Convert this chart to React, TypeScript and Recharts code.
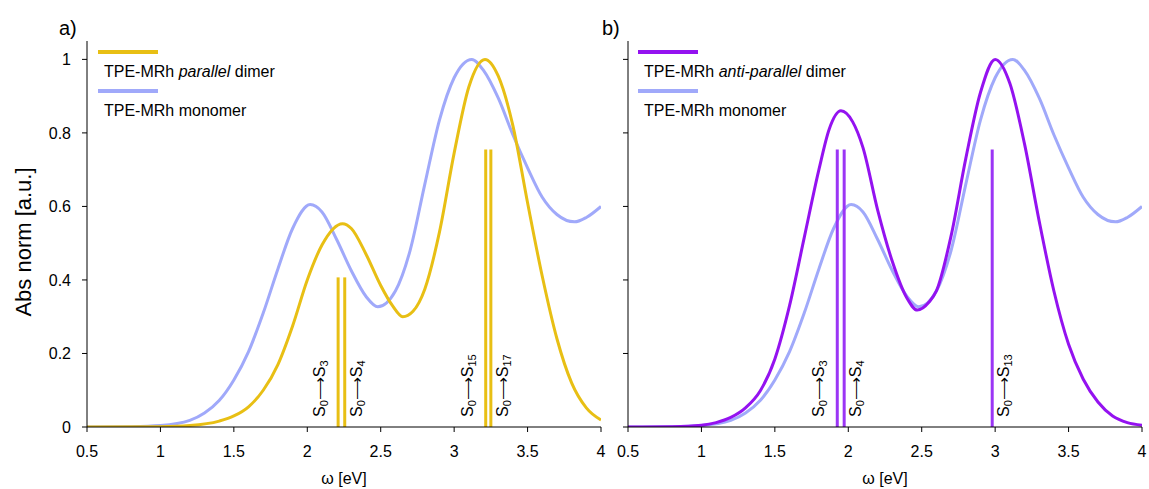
import React from "react";
import {
  ComposedChart,
  Line,
  XAxis,
  YAxis,
  ReferenceLine,
  Legend,
} from "recharts";

const FONT = '"Liberation Sans", Arial, Helvetica, sans-serif';
const GOLD = "#e8bf14";
const LAVENDER = "#a0a9fa";
const PURPLE = "#9412f0";
const PURPLE_STICK = "#9b35f5";

const omegaTicks = [0.5, 1, 1.5, 2, 2.5, 3, 3.5, 4];
const absTicks = [0, 0.2, 0.4, 0.6, 0.8, 1];

// TPE-MRh monomer spectrum (same in both panels)
const monomerOmega = [0.5, 0.8, 1.0, 1.2, 1.3, 1.4, 1.5, 1.6, 1.7, 1.8, 1.9, 2.02, 2.1, 2.2, 2.3, 2.4, 2.48, 2.6, 2.7, 2.8, 2.9, 3.0, 3.12, 3.2, 3.3, 3.4, 3.5, 3.6, 3.7, 3.82, 3.9, 4.0];
const monomerAbs = [0, 0.001, 0.004, 0.018, 0.038, 0.072, 0.128, 0.205, 0.31, 0.43, 0.54, 0.605, 0.585, 0.51, 0.425, 0.355, 0.327, 0.37, 0.48, 0.66, 0.835, 0.95, 1.0, 0.97, 0.895, 0.795, 0.705, 0.625, 0.578, 0.558, 0.57, 0.6];

// parallel dimer
const parallelOmega = [0.5, 1.0, 1.2, 1.4, 1.5, 1.6, 1.7, 1.8, 1.9, 2.0, 2.1, 2.24, 2.3, 2.4, 2.5, 2.58, 2.65, 2.72, 2.8, 2.9, 3.0, 3.1, 3.21, 3.3, 3.4, 3.5, 3.6, 3.7, 3.8, 3.9, 4.0];
const parallelAbs = [0, 0.001, 0.004, 0.016, 0.03, 0.055, 0.1, 0.17, 0.275, 0.4, 0.495, 0.553, 0.54, 0.47, 0.385, 0.33, 0.3, 0.315, 0.375, 0.53, 0.745, 0.925, 1.0, 0.955, 0.82, 0.61, 0.41, 0.24, 0.12, 0.052, 0.019];

// anti-parallel dimer
const antiOmega = [0.5, 0.8, 1.0, 1.1, 1.2, 1.3, 1.4, 1.5, 1.6, 1.7, 1.8, 1.87, 1.95, 2.03, 2.1, 2.2, 2.3, 2.4, 2.47, 2.55, 2.6, 2.7, 2.8, 2.9, 3.0, 3.1, 3.2, 3.3, 3.4, 3.5, 3.6, 3.7, 3.8, 3.9, 4.0];
const antiAbs = [0, 0.001, 0.005, 0.012, 0.026, 0.052, 0.098, 0.185, 0.33, 0.515, 0.7, 0.81, 0.86, 0.83, 0.76, 0.59, 0.45, 0.35, 0.318, 0.34, 0.37, 0.52, 0.73, 0.91, 1.0, 0.935, 0.77, 0.56, 0.37, 0.225, 0.13, 0.068, 0.03, 0.012, 0.005];

// transitions (sticks)
const parallelStickOmega = [2.21, 2.255, 3.215, 3.25];
const parallelStickAbs = [0.407, 0.407, 0.755, 0.755];
const parallelStickState = ["3", "4", "15", "17"];
const parallelStickSide = ["left", "right", "left", "right"];

const antiStickOmega = [1.925, 1.972, 2.98];
const antiStickAbs = [0.755, 0.755, 0.755];
const antiStickState = ["3", "4", "13"];
const antiStickSide = ["left", "right", "right"];

const zip = (xs: number[], ys: number[]) =>
  xs.map((omega, i) => ({ omega, abs: ys[i] }));

const StickLabel = (props: any) => {
  const vb = props.viewBox || {};
  const baseY = (vb.y ?? 0) + (vb.height ?? 0);
  const x = vb.x + (props.side === "left" ? -13 : 17);
  const y = baseY - 10;
  return (
    <text
      x={x}
      y={y}
      transform={`rotate(-90 ${x} ${y})`}
      fontSize={16}
      fontFamily={FONT}
      fill="#000"
    >
      S<tspan fontSize={11} dy={3}>0</tspan>
      <tspan dy={-3}>⟶</tspan>S
      <tspan fontSize={11} dy={3}>{props.state}</tspan>
    </text>
  );
};

const LegendBox = (props: any) => {
  // dimer first, monomer below (as in the figure)
  const items = [...(props.payload || [])].sort(
    (a: any, b: any) =>
      Number(String(b.value).includes("dimer")) -
      Number(String(a.value).includes("dimer"))
  );
  return (
    <div style={{ fontFamily: FONT, fontSize: 16, color: "#000" }}>
      {items.map((it: any) => (
        <div key={it.value} style={{ marginBottom: 8 }}>
          <div style={{ width: 60, height: 4, background: it.color }} />
          <div style={{ marginTop: 9, marginLeft: 6, lineHeight: "18px", whiteSpace: "nowrap" }}>
            {String(it.value)
              .split(" ")
              .map((w: string, i: number) => (
                <span key={i} style={{ fontStyle: w.includes("parallel") ? "italic" : "normal" }}>
                  {i > 0 ? " " : ""}
                  {w}
                </span>
              ))}
          </div>
        </div>
      ))}
    </div>
  );
};

interface PanelProps {
  width: number;
  yWidth: number;
  showYLabels: boolean;
  dimerName: string;
  dimerColor: string;
  stickColor: string;
  dimerOmega: number[];
  dimerAbs: number[];
  stickOmega: number[];
  stickAbs: number[];
  stickState: string[];
  stickSide: string[];
  legendLeft: number;
}

function Panel(p: PanelProps) {
  const tickStyle = { fontSize: 16, fontFamily: FONT, fill: "#000" };
  return (
    <ComposedChart
      width={p.width}
      height={489}
      margin={{ top: 41, right: p.width - p.yWidth - 514, bottom: 0, left: 0 }}
    >
      <XAxis
        type="number"
        dataKey="omega"
        domain={[0.5, 4]}
        ticks={omegaTicks}
        allowDataOverflow
        height={62}
        tickSize={5}
        tickMargin={14}
        tick={tickStyle}
        stroke="#000"
        label={(lp: any) => {
          const vb = lp.viewBox;
          return (
            <text
              x={vb.x + vb.width / 2}
              y={vb.y + 56.5}
              textAnchor="middle"
              fontSize={16}
              fontFamily={FONT}
              fill="#000"
            >
              ω [eV]
            </text>
          );
        }}
      />
      <YAxis
        type="number"
        domain={[0, 1.05]}
        ticks={absTicks}
        allowDataOverflow
        width={p.yWidth}
        tickSize={5}
        tickMargin={11}
        tick={tickStyle}
        stroke="#000"
        tickFormatter={p.showYLabels ? (v: number) => String(v) : () => ""}
        label={
          p.showYLabels
            ? () => (
                <text
                  x={31}
                  y={242}
                  transform="rotate(-90 31 242)"
                  textAnchor="middle"
                  fontSize={22}
                  fontFamily={FONT}
                  fill="#000"
                >
                  Abs norm [a.u.]
                </text>
              )
            : undefined
        }
      />
      <Legend
        layout="vertical"
        align="center"
        verticalAlign="middle"
        content={<LegendBox />}
        wrapperStyle={{ position: "absolute", left: p.legendLeft, top: 50, width: "auto", height: "auto" }}
      />
      <Line
        name="TPE-MRh monomer"
        data={zip(monomerOmega, monomerAbs)}
        dataKey="abs"
        type="monotone"
        stroke={LAVENDER}
        strokeWidth={3}
        dot={false}
        activeDot={false}
        isAnimationActive={false}
      />
      <Line
        name={p.dimerName}
        data={zip(p.dimerOmega, p.dimerAbs)}
        dataKey="abs"
        type="monotone"
        stroke={p.dimerColor}
        strokeWidth={3}
        dot={false}
        activeDot={false}
        isAnimationActive={false}
      />
      {p.stickOmega.map((w, i) => (
        <ReferenceLine
          key={i}
          segment={[
            { x: w, y: 0 },
            { x: w, y: p.stickAbs[i] },
          ]}
          stroke={p.stickColor}
          strokeWidth={3}
          label={<StickLabel state={p.stickState[i]} side={p.stickSide[i]} />}
        />
      ))}
    </ComposedChart>
  );
}

export default function App() {
  return (
    <div style={{ position: "absolute", left: 0, top: 0, width: 1149, height: 489, background: "#fff" }}>
      <div style={{ position: "absolute", left: 0, top: 0 }}>
        <Panel
          width={610}
          yWidth={87}
          showYLabels
          dimerName="TPE-MRh parallel dimer"
          dimerColor={GOLD}
          stickColor={GOLD}
          dimerOmega={parallelOmega}
          dimerAbs={parallelAbs}
          stickOmega={parallelStickOmega}
          stickAbs={parallelStickAbs}
          stickState={parallelStickState}
          stickSide={parallelStickSide}
          legendLeft={98}
        />
      </div>
      <div style={{ position: "absolute", left: 610, top: 0 }}>
        <Panel
          width={539}
          yWidth={18}
          showYLabels={false}
          dimerName="TPE-MRh anti-parallel dimer"
          dimerColor={PURPLE}
          stickColor={PURPLE_STICK}
          dimerOmega={antiOmega}
          dimerAbs={antiAbs}
          stickOmega={antiStickOmega}
          stickAbs={antiStickAbs}
          stickState={antiStickState}
          stickSide={antiStickSide}
          legendLeft={28}
        />
      </div>
      <svg
        width={1149}
        height={489}
        style={{ position: "absolute", left: 0, top: 0, pointerEvents: "none" }}
      >
        <text x={59} y={35} fontSize={20} fontFamily={FONT} fill="#000">
          a)
        </text>
        <text x={602} y={35} fontSize={20} fontFamily={FONT} fill="#000">
          b)
        </text>
      </svg>
    </div>
  );
}
